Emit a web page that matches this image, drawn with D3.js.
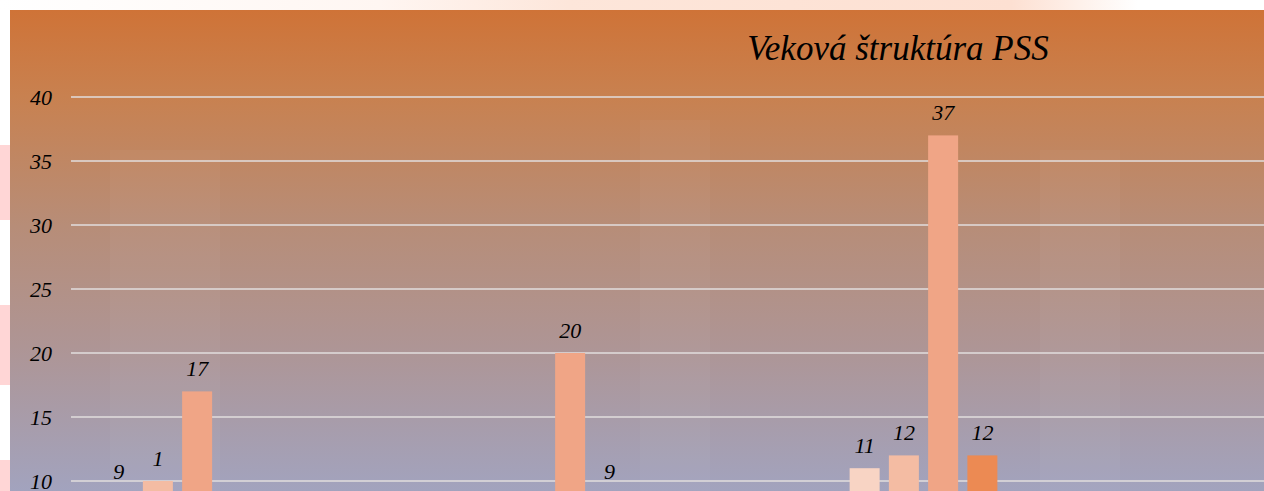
<!DOCTYPE html>
<html>
<head>
<meta charset="utf-8">
<script src="https://cdn.jsdelivr.net/npm/d3@7"></script>
<style>
  html, body { margin: 0; padding: 0; background: #ffffff; overflow: hidden; }
  svg { display: block; }
</style>
</head>
<body>
<svg id="chart" width="1264" height="491"></svg>
<script>
// ---- data ----
const title = "Veková štruktúra PSS";
const categories = ["Skupina 1", "Skupina 2", "Skupina 3"];
const seriesNames = ["S1", "S2", "S3", "S4", "S5", "S6", "S7", "S8"];
const series1 = [9, null, 11];
const series2 = [10, null, 12];
const series2Labels = ["1", null, "12"];
const series3 = [17, 20, 37];
const series4 = [null, 9, 12];
const seriesColors = ["#F8D4C4", "#F4BCA3", "#F0A586", "#EC8A53", "#E8773E", "#E06A30", "#D85E28", "#D05020"];
const yTicks = [10, 15, 20, 25, 30, 35, 40];

const seriesValues = [series1, series2, series3, series4];
const seriesLabelTexts = [null, series2Labels, null, null];

// ---- layout ----
const W = 1264, H = 491;
const frame = { left: 10, top: 10 };
const plot = { left: 71, right: 1190, top: 97, bottom: 609 };
const serif = "'Liberation Serif', 'DejaVu Serif', serif";

const svg = d3.select("#chart");
const defs = svg.append("defs");

const bg = defs.append("linearGradient").attr("id", "bg")
  .attr("gradientUnits", "userSpaceOnUse")
  .attr("x1", 0).attr("y1", 10).attr("x2", 0).attr("y2", 491);
[[0, "#CF7337"], [0.18, "#C88150"], [0.45, "#B78D78"], [0.7, "#AE9595"], [1, "#A2A3BE"]]
  .forEach(([o, c]) => bg.append("stop").attr("offset", o).attr("stop-color", c));

const topGrad = defs.append("linearGradient").attr("id", "topg")
  .attr("gradientUnits", "userSpaceOnUse")
  .attr("x1", 0).attr("y1", 0).attr("x2", W).attr("y2", 0);
[[0, "#FFFFFF"], [0.3, "#FFF6F2"], [0.45, "#FDE6DA"], [0.8, "#FDE0D2"], [0.9, "#FFFFFF"], [1, "#FFFFFF"]]
  .forEach(([o, c]) => topGrad.append("stop").attr("offset", o).attr("stop-color", c));

// outer frame decorations (white with pink/peach patches)
svg.append("rect").attr("x", 0).attr("y", 0).attr("width", W).attr("height", H).attr("fill", "#ffffff");
svg.append("rect").attr("x", 0).attr("y", 0).attr("width", W).attr("height", 10).attr("fill", "url(#topg)");
const pinkPatches = [[0, 145, 10, 75], [0, 305, 10, 80], [0, 460, 10, 31]];
svg.selectAll("rect.pp").data(pinkPatches).join("rect").attr("class", "pp")
  .attr("x", d => d[0]).attr("y", d => d[1]).attr("width", d => d[2]).attr("height", d => d[3])
  .attr("fill", "#FFD6D6");

// chart area
svg.append("rect").attr("x", frame.left).attr("y", frame.top)
  .attr("width", W - frame.left).attr("height", H - frame.top).attr("fill", "url(#bg)");

// faint watermark shapes
const wm = svg.append("g").attr("opacity", 0.03).attr("fill", "#ffffff");
wm.append("rect").attr("x", 110).attr("y", 150).attr("width", 110).attr("height", 341);
wm.append("rect").attr("x", 640).attr("y", 120).attr("width", 70).attr("height", 371);
wm.append("rect").attr("x", 1040).attr("y", 150).attr("width", 80).attr("height", 341);

// scales
const x0 = d3.scaleBand().domain(categories).range([plot.left, plot.right]).paddingInner(0).paddingOuter(0);
const groupW = x0.bandwidth();
const x1 = d3.scaleBand().domain(seriesNames).range([28, groupW - 31]).padding(0);
const barW = 30;
const y = d3.scaleLinear().domain([0, 40]).range([plot.bottom, plot.top]);

// gridlines
svg.append("g").selectAll("line").data(yTicks).join("line")
  .attr("x1", plot.left).attr("x2", W)
  .attr("y1", d => y(d)).attr("y2", d => y(d))
  .attr("stroke", "#E2DEDE").attr("stroke-width", 1.5);

// y axis labels
const yAxis = d3.axisLeft(y).tickValues(yTicks).tickSize(0).tickPadding(0);
const ya = svg.append("g").attr("transform", `translate(52,0)`).call(yAxis);
ya.select(".domain").remove();
ya.selectAll("text")
  .attr("font-family", serif)
  .attr("font-style", "italic").attr("font-size", 22).attr("fill", "#000").attr("dy", "0.32em");

// bars
const barData = [];
seriesValues.forEach((vals, si) => {
  vals.forEach((v, ci) => {
    if (v == null) return;
    const lbl = seriesLabelTexts[si] ? seriesLabelTexts[si][ci] : String(v);
    barData.push({ s: seriesNames[si], c: categories[ci], v, color: seriesColors[si], lbl });
  });
});

const bx = d => x0(d.c) + x1(d.s) + (x1.bandwidth() - barW) / 2;

svg.append("g").selectAll("rect").data(barData).join("rect")
  .attr("x", bx).attr("y", d => y(d.v))
  .attr("width", barW).attr("height", d => y(0) - y(d.v))
  .attr("fill", d => d.color);

svg.append("g").selectAll("text").data(barData).join("text")
  .attr("x", d => bx(d) + barW / 2).attr("y", d => y(d.v) - 15)
  .attr("text-anchor", "middle")
  .attr("font-family", serif)
  .attr("font-style", "italic").attr("font-size", 22).attr("fill", "#000")
  .text(d => d.lbl);

// title
svg.append("text").attr("x", 898).attr("y", 60).attr("text-anchor", "middle")
  .attr("font-family", serif)
  .attr("font-style", "italic").attr("font-size", 35).attr("fill", "#000")
  .text(title);
</script>
</body>
</html>
